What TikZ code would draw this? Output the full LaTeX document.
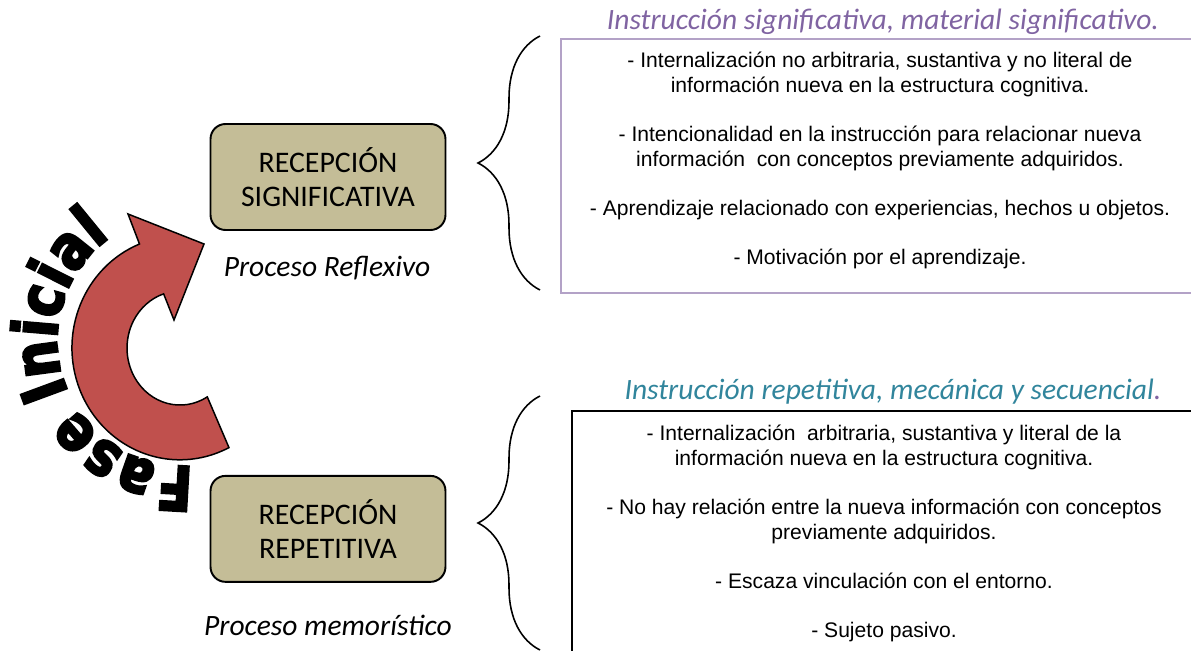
\documentclass[tikz,border=0pt]{standalone}
\usepackage{fontspec}
\setmainfont{Carlito}
\newfontfamily\bodyfont{Liberation Sans}
\newfontfamily\fasefont[FakeBold=4,FakeStretch=0.84]{DejaVu Sans Bold}
\usetikzlibrary{positioning,decorations.text,decorations.pathreplacing}
\definecolor{tanfill}{HTML}{C4BD97}
\definecolor{arrowred}{HTML}{C0504D}
\definecolor{titpurple}{HTML}{8064A2}
\definecolor{boxpurple}{HTML}{B3A2C7}
\definecolor{titteal}{HTML}{31859C}
\newcommand{\rcpsize}{\fontsize{17}{19}\selectfont}
\newcommand{\listsize}{\bodyfont\fontsize{12}{14}\selectfont}

\begin{document}
\begin{tikzpicture}[x=0.02cm,y=0.02cm,
    rcp/.style={draw,line width=1.1pt,fill=tanfill,rounded corners=0.3cm,minimum width=4.7cm,minimum height=2.12cm,align=center,font=\rcpsize},
    proc/.style={font=\fontsize{16.8}{19}\selectfont\itshape,anchor=base},
    tit/.style={font=\fontsize{16.8}{19}\selectfont\itshape,anchor=base},
    listbox/.style={draw,rectangle,anchor=north west},
    listtext/.style={align=center,font=\listsize},
    brc/.style={decorate,decoration={brace,amplitude=1.24cm},line width=0.9pt}]
    \useasboundingbox (0,0) rectangle (1191,650);

    \node[rcp] (sig) at (328,473) {RECEPCIÓN\\SIGNIFICATIVA};
    \node[rcp,below=4.88cm of sig] (rep) {RECEPCIÓN\\REPETITIVA};
    \node[proc] (sigproc) at (327,373) {Proceso Reflexivo};
    \node[proc] (repproc) at (328,15) {Proceso memorístico};

    \draw[fill=arrowred,line width=0.85pt] (139.5,406) arc[start angle=112,end angle=297,x radius=2.16cm,y radius=2.24cm]
        -- (207.3,253.1) arc[start angle=301,end angle=108,x radius=1.06cm,y radius=1.14cm]
        -- (174,330) -- (204,406) -- (128,436) -- cycle;
    \coordinate (fasec) at (183,310);
    \path[decorate,decoration={text along path,text align=center,
        text={|\fasefont\fontsize{35}{35}\selectfont|Fase Inicial}}]
        (fasec) ++(-80:126) arc[start angle=-80,end angle=-240,radius=2.52cm];

    \node[listbox,draw=boxpurple,line width=1.4pt,minimum width=12.72cm,minimum height=5.08cm] (siglist) at (560,612) {};
    \node[listtext] (sigtext) at (880,489.5) {- Internalización no arbitraria, sustantiva y no literal de\\información nueva en la estructura cognitiva.\\[14pt]
        - Intencionalidad en la instrucción para relacionar nueva\\información~ con conceptos previamente adquiridos.\\[14pt]
        - Aprendizaje relacionado con experiencias, hechos u objetos.\\[14pt]
        - Motivación por el aprendizaje.};
    \node[tit,text=titpurple] (sigtit) at (883,620) {Instrucción significativa, material significativo.};

    \node[listbox,line width=1.2pt,minimum width=12.5cm,minimum height=4.92cm] (replist) at (571,240) {};
    \node[listtext] (reptext) at (884,116.5) {- Internalización~ arbitraria, sustantiva y literal de la\\información nueva en la estructura cognitiva.\\[14pt]
        - No hay relación entre la nueva información con conceptos\\previamente adquiridos.\\[14pt]
        - Escaza vinculación con el entorno.\\[14pt]
        - Sujeto pasivo.};
    \node[tit,text=titteal] (reptit) at (893,251) {Instrucción repetitiva, mecánica y secuencial{\color{titpurple}.}};

    \coordinate (sigb1) at (540,360);
    \coordinate (sigb2) at (540,614);
    \coordinate (repb1) at (540,0);
    \coordinate (repb2) at (540,254);
    \draw[brc] (sigb1) -- (sigb2);
    \draw[brc] (repb1) -- (repb2);
\end{tikzpicture}
\end{document}
